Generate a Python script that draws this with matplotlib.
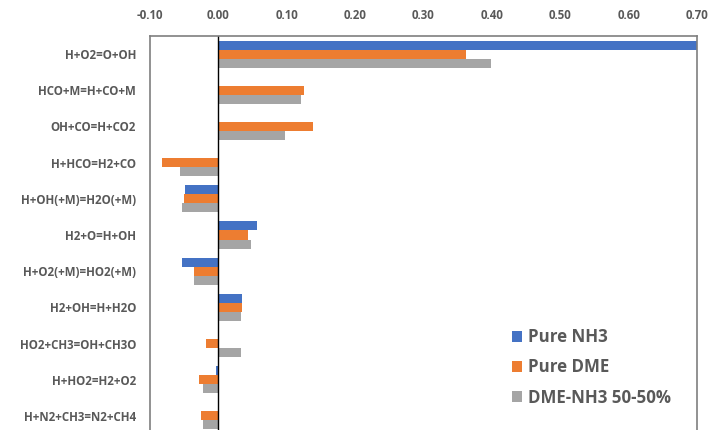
import numpy as np
import matplotlib.pyplot as plt
from matplotlib.ticker import FormatStrFormatter

reactions = ['H+O2=O+OH', 'HCO+M=H+CO+M', 'OH+CO=H+CO2', 'H+HCO=H2+CO',
             'H+OH(+M)=H2O(+M)', 'H2+O=H+OH', 'H+O2(+M)=HO2(+M)', 'H2+OH=H+H2O',
             'HO2+CH3=OH+CH3O', 'H+HO2=H2+O2', 'H+N2+CH3=N2+CH4']
pure_nh3 = [0.70, 0.0, 0.0, 0.0, -0.049, 0.056, -0.053, 0.034, 0.0, -0.003, 0.0]
pure_dme = [0.362, 0.125, 0.139, -0.082, -0.051, 0.043, -0.035, 0.034, -0.018, -0.028, -0.026]
blend = [0.399, 0.121, 0.097, -0.056, -0.053, 0.047, -0.035, 0.033, 0.033, -0.023, -0.023]

plt.rcParams['font.family'] = ['Open Sans', 'DejaVu Sans']
txt = '#595959'

fig = plt.figure(figsize=(7.08, 4.30), dpi=100)
ax = fig.add_axes([150 / 708, 0, (697 - 150) / 708, 1 - 36 / 430])

y = np.arange(len(reactions))
h = 0.25
ax.barh(y - h, pure_nh3, height=h, color='#4472C4', label='Pure NH3')
ax.barh(y, pure_dme, height=h, color='#ED7D31', label='Pure DME')
ax.barh(y + h, blend, height=h, color='#A5A5A5', label='DME-NH3 50-50%')

ax.set_xlim(-0.10, 0.70)
ax.set_ylim(10.39, -0.5)
ax.axvline(0, color='black', lw=1)
ax.xaxis.tick_top()
ax.set_xticks(np.arange(-0.1, 0.71, 0.1))
ax.xaxis.set_major_formatter(FormatStrFormatter('%.2f'))
ax.set_yticks(y)
ax.set_yticklabels(reactions)
ax.tick_params(length=0, labelsize=8.3, labelcolor=txt, pad=10)
for lab in ax.get_xticklabels() + ax.get_yticklabels():
    lab.set_fontweight('bold')
for s in ['left', 'top', 'right']:
    ax.spines[s].set_color('#7f7f7f')
    ax.spines[s].set_linewidth(1.2)
ax.spines['bottom'].set_visible(False)

leg = ax.legend(loc='upper left', bbox_to_anchor=(497 / 708, 1 - 313 / 430),
                bbox_transform=fig.transFigure, frameon=False,
                handlelength=0.6, handleheight=0.6, handletextpad=0.35,
                labelspacing=0.72, prop={'size': 12.2, 'weight': 'bold'})
for t in leg.get_texts():
    t.set_color(txt)

fig.savefig('out.png', dpi=100)
